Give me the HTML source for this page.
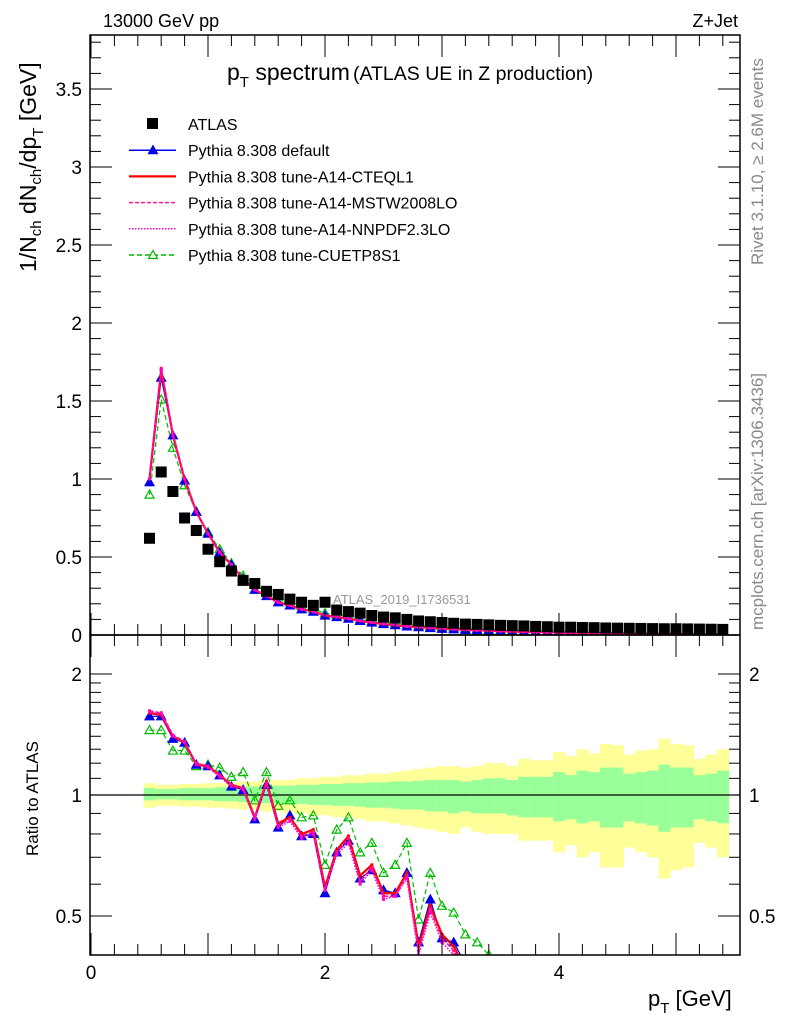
<!DOCTYPE html>
<html><head><meta charset="utf-8">
<style>
html,body{margin:0;padding:0;background:#fff;}
svg{display:block;font-family:"Liberation Sans",sans-serif;}
</style></head>
<body>
<svg id="chart" width="786" height="1024" viewBox="0 0 786 1024">
<defs>
<clipPath id="clipMain"><rect x="90" y="35" width="650" height="600"/></clipPath>
<clipPath id="clipRatio"><rect x="90" y="635" width="650" height="320"/></clipPath>
</defs>
<g id="bands" clip-path="url(#clipRatio)"></g>
<g id="ratioSeries" clip-path="url(#clipRatio)"></g>
<g id="mainSeries" clip-path="url(#clipMain)"></g>
<g id="axes"></g>
<text x="103" y="27" font-size="18">13000 GeV pp</text>
<text x="738" y="27" font-size="18" text-anchor="end">Z+Jet</text>
<text x="227" y="80" font-size="23">p<tspan font-size="15" dy="7">T</tspan><tspan dy="-7"> spectrum</tspan><tspan font-size="19.5" dx="3">(ATLAS UE in Z production)</tspan></text>
<text x="333" y="604" font-size="13" fill="#999">ATLAS_2019_I1736531</text>
<text transform="translate(763,265) rotate(-90)" font-size="17" fill="#888">Rivet 3.1.10, ≥ 2.6M events</text>
<text transform="translate(763,630) rotate(-90)" font-size="17" fill="#888">mcplots.cern.ch [arXiv:1306.3436]</text>
<text transform="translate(36,272) rotate(-90)" font-size="23">1/N<tspan font-size="15" dy="5">ch</tspan><tspan dy="-5"> dN</tspan><tspan font-size="15" dy="5">ch</tspan><tspan dy="-5">/dp</tspan><tspan font-size="15" dy="7">T</tspan><tspan dy="-7"> [GeV]</tspan></text>
<text transform="translate(38,856) rotate(-90)" font-size="17">Ratio to ATLAS</text>
<text x="648" y="1006" font-size="22">p<tspan font-size="15" dy="7">T</tspan><tspan dy="-7"> [GeV]</tspan></text>
<g id="legend"></g>
</svg>
<script>
const xs = [0.5,0.6,0.7,0.8,0.9,1.0,1.1,1.2,1.3,1.4,1.5,1.6,1.7,1.8,1.9,2.0,2.1,2.2,2.3,2.4,2.5,2.6,2.7,2.8,2.9,3.0,3.1,3.2,3.3,3.4,3.5,3.6,3.7,3.8,3.9,4.0,4.1,4.2,4.3,4.4,4.5,4.6,4.7,4.8,4.9,5.0,5.1,5.2,5.3,5.4];
const atlas = [0.62,1.045,0.92,0.75,0.67,0.55,0.47,0.41,0.35,0.33,0.28,0.26,0.23,0.21,0.19,0.21,0.16,0.15,0.14,0.125,0.115,0.11,0.10,0.09,0.085,0.08,0.075,0.07,0.068,0.065,0.062,0.06,0.058,0.055,0.053,0.05,0.05,0.048,0.047,0.045,0.044,0.043,0.042,0.041,0.04,0.04,0.039,0.038,0.037,0.036];
const mainDefault = [0.98,1.65,1.28,0.99,0.79,0.65,0.53,0.45,0.36,0.29,0.25,0.21,0.19,0.165,0.15,0.125,0.115,0.105,0.09,0.08,0.07,0.063,0.055,0.05,0.045,0.04,0.037,0.033,0.03,0.027,0.025,0.022,0.02,0.018,0.017,0.015,0.014,0.013,0.012,0.011,0.01,0.009,0.008,0.008,0.007,0.007,0.006,0.006,0.005,0.005];
const mainCTEQ = [1.0,1.70,1.28,1.0,0.79,0.65,0.53,0.45,0.36,0.29,0.25,0.21,0.19,0.165,0.15,0.125,0.115,0.105,0.09,0.08,0.07,0.063,0.055,0.05,0.045,0.04,0.037,0.033,0.03,0.027,0.025,0.022,0.02,0.018,0.017,0.015,0.014,0.013,0.012,0.011,0.01,0.009,0.008,0.008,0.007,0.007,0.006,0.006,0.005,0.005];
const mainMSTW = [1.0,1.71,1.29,1.0,0.79,0.65,0.53,0.45,0.36,0.29,0.25,0.21,0.19,0.165,0.15,0.125,0.115,0.105,0.09,0.08,0.07,0.063,0.055,0.05,0.045,0.04,0.037,0.033,0.03,0.027,0.025,0.022,0.02,0.018,0.017,0.015,0.014,0.013,0.012,0.011,0.01,0.009,0.008,0.008,0.007,0.007,0.006,0.006,0.005,0.005];
const mainNNPDF = [1.0,1.70,1.28,1.0,0.79,0.65,0.53,0.45,0.36,0.29,0.25,0.21,0.19,0.165,0.15,0.125,0.115,0.105,0.09,0.08,0.07,0.063,0.055,0.05,0.045,0.04,0.037,0.033,0.03,0.027,0.025,0.022,0.02,0.018,0.017,0.015,0.014,0.013,0.012,0.011,0.01,0.009,0.008,0.008,0.007,0.007,0.006,0.006,0.005,0.005];
const mainCUETP = [0.90,1.51,1.20,0.96,0.79,0.66,0.55,0.46,0.38,0.32,0.28,0.24,0.21,0.185,0.165,0.14,0.13,0.12,0.10,0.09,0.08,0.075,0.068,0.06,0.055,0.05,0.046,0.042,0.038,0.035,0.032,0.029,0.027,0.025,0.023,0.021,0.02,0.018,0.017,0.016,0.015,0.014,0.013,0.012,0.011,0.011,0.01,0.01,0.009,0.009];
const ratioDefault = [1.57,1.57,1.38,1.35,1.19,1.18,1.12,1.05,1.03,0.87,1.06,0.83,0.89,0.79,0.80,0.57,0.72,0.77,0.62,0.65,0.58,0.57,0.64,0.43,0.55,0.44,0.43,0.38];
const ratioCTEQ = [1.60,1.58,1.40,1.35,1.19,1.18,1.12,1.06,1.04,0.88,1.08,0.85,0.88,0.80,0.82,0.59,0.73,0.79,0.63,0.67,0.57,0.57,0.64,0.42,0.53,0.45,0.42,0.37];
const ratioMSTW = [1.62,1.60,1.41,1.36,1.20,1.18,1.12,1.06,1.04,0.88,1.07,0.84,0.87,0.79,0.81,0.58,0.72,0.78,0.61,0.66,0.56,0.56,0.63,0.41,0.52,0.44,0.41,0.36];
const ratioNNPDF = [1.61,1.59,1.40,1.35,1.19,1.17,1.11,1.05,1.03,0.87,1.07,0.83,0.86,0.78,0.80,0.58,0.71,0.76,0.60,0.65,0.55,0.56,0.62,0.40,0.51,0.43,0.40,0.36];
const ratioCUETP = [1.45,1.45,1.29,1.29,1.18,1.19,1.17,1.11,1.14,0.97,1.14,0.94,0.97,0.88,0.89,0.67,0.82,0.88,0.72,0.76,0.64,0.67,0.76,0.49,0.64,0.53,0.51,0.45,0.43,0.40,0.37];
const yellowUp = [1.07,1.06,1.06,1.065,1.065,1.07,1.07,1.075,1.08,1.08,1.085,1.09,1.09,1.10,1.10,1.11,1.11,1.12,1.12,1.13,1.13,1.14,1.15,1.16,1.17,1.18,1.18,1.17,1.18,1.20,1.20,1.18,1.23,1.22,1.22,1.28,1.25,1.30,1.27,1.34,1.33,1.26,1.29,1.30,1.38,1.34,1.33,1.23,1.26,1.30];
const yellowDn = [0.93,0.94,0.94,0.935,0.935,0.93,0.93,0.925,0.92,0.92,0.91,0.91,0.90,0.90,0.89,0.89,0.88,0.88,0.87,0.86,0.86,0.85,0.84,0.83,0.82,0.81,0.80,0.83,0.81,0.80,0.80,0.80,0.77,0.77,0.77,0.72,0.75,0.70,0.72,0.66,0.66,0.74,0.72,0.70,0.62,0.65,0.66,0.76,0.74,0.70];
const greenUp = [1.04,1.035,1.035,1.04,1.04,1.04,1.045,1.045,1.05,1.05,1.05,1.055,1.055,1.06,1.06,1.065,1.065,1.07,1.07,1.075,1.075,1.08,1.08,1.085,1.09,1.09,1.09,1.08,1.09,1.10,1.10,1.09,1.11,1.11,1.11,1.14,1.12,1.15,1.14,1.17,1.17,1.13,1.14,1.15,1.19,1.17,1.17,1.12,1.13,1.15];
const greenDn = [0.97,0.975,0.975,0.97,0.97,0.97,0.965,0.965,0.96,0.96,0.955,0.955,0.95,0.95,0.945,0.945,0.94,0.94,0.935,0.93,0.93,0.925,0.92,0.92,0.91,0.91,0.90,0.91,0.90,0.90,0.90,0.89,0.88,0.88,0.88,0.86,0.87,0.85,0.86,0.83,0.83,0.86,0.85,0.84,0.81,0.83,0.83,0.87,0.86,0.85];
const mainTicks = ["0","0.5","1","1.5","2","2.5","3","3.5"];
const xTicks = ["0","2","4"];
const ratioTicks = ["0.5","1","2"];

const NS = "http://www.w3.org/2000/svg";
const X = v => 91 + 117 * v;
const YM = v => 635 - 156 * v;
const YR = r => 795 - 121 * Math.log2(r);
function mk(tag, attrs, parent){ const e=document.createElementNS(NS,tag); for(const k in attrs) e.setAttribute(k,attrs[k]); parent.appendChild(e); return e; }
const gAx = document.getElementById('axes');
const gBand = document.getElementById('bands');
const gR = document.getElementById('ratioSeries');
const gM = document.getElementById('mainSeries');
const gL = document.getElementById('legend');

for (let i=0;i<xs.length;i++){
  const x0=X(xs[i]-0.05), w=117*0.1;
  const y1 = mk('rect',{x:x0,y:YR(yellowUp[i]),width:w+0.5,height:YR(yellowDn[i])-YR(yellowUp[i]),fill:'#ffff99'},gBand);
  
  
  const g1 = mk('rect',{x:x0,y:YR(greenUp[i]),width:w+0.5,height:YR(greenDn[i])-YR(greenUp[i]),fill:'#99ff99'},gBand);
  
  
}
const one = mk('line',{x1:90,x2:740,y1:YR(1),y2:YR(1),stroke:'#000','stroke-width':1.2},gBand);



function tri(g,x,y,fill,stroke){ return mk('path',{d:`M${x-4.5},${y+3.5} L${x+4.5},${y+3.5} L${x},${y-4.5} Z`,fill:fill,stroke:stroke,'stroke-width':1.2},g); }
function drawSeries(g, vals, yf, color, dash, width, marker, name){
  const pts = vals.map((v,i)=>X(xs[i]).toFixed(1)+','+yf(v).toFixed(1)).join(' ');
  const pl = mk('polyline',{points:pts,fill:'none',stroke:color,'stroke-width':width,'stroke-dasharray':dash},g);
  
  
  vals.forEach((v,i)=>{
    let m;
    if (marker==='tri') m = tri(g,X(xs[i]),yf(v),color,color);
    else if (marker==='otri') m = tri(g,X(xs[i]),yf(v),'none',color);
    else m = mk('rect',{x:X(xs[i])-1.5,y:yf(v)-1.5,width:3,height:3,fill:color},g);
    
    
  });
}
drawSeries(gR, ratioCUETP, YR, '#00bb00', '5,3', 1.2, 'otri', 'ratio-cuetp8s1');
drawSeries(gR, ratioDefault, YR, '#0000ee', '', 1.2, 'tri', 'ratio-default');
drawSeries(gR, ratioCTEQ, YR, '#ff0000', '', 2.2, 'sq', 'ratio-cteql1');
drawSeries(gR, ratioMSTW, YR, '#ff1493', '4,2', 1.6, 'sq', 'ratio-mstw2008lo');
drawSeries(gR, ratioNNPDF, YR, '#ff00cc', '1.5,1.5', 1.6, 'sq', 'ratio-nnpdf23lo');
drawSeries(gM, mainCUETP, YM, '#00bb00', '5,3', 1.2, 'otri', 'cuetp8s1');
drawSeries(gM, mainDefault, YM, '#0000ee', '', 1.2, 'tri', 'default');
drawSeries(gM, mainCTEQ, YM, '#ff0000', '', 2.2, 'sq', 'cteql1');
drawSeries(gM, mainMSTW, YM, '#ff1493', '4,2', 1.6, 'sq', 'mstw2008lo');
drawSeries(gM, mainNNPDF, YM, '#ff00cc', '1.5,1.5', 1.6, 'sq', 'nnpdf23lo');
atlas.forEach((v,i)=>{
  const r = mk('rect',{x:X(xs[i])-5.5,y:YM(v)-5.5,width:11,height:11,fill:'#000'},gM);
  
  
});

const f1 = mk('rect',{x:90,y:35,width:650,height:600,fill:'none',stroke:'#000','stroke-width':1.5},gAx);


const f2 = mk('rect',{x:90,y:635,width:650,height:320,fill:'none',stroke:'#000','stroke-width':1.5},gAx);


for (let k=0;k<=38;k++){
  const v=k*0.1, y=YM(v), len=(k%5===0)?22:11;
  mk('line',{x1:90,x2:90+len,y1:y,y2:y,stroke:'#000'},gAx);
  mk('line',{x1:740,x2:740-len,y1:y,y2:y,stroke:'#000'},gAx);
}
mainTicks.forEach(t=>{
  const tx = mk('text',{x:82,y:YM(parseFloat(t))+7,'font-size':19,'text-anchor':'end'},gAx);
  tx.textContent=t;
  
  
});
for (let k=0;k<=27;k++){
  const v=k*0.2, x=X(v), len=(k%5===0)?22:11;
  mk('line',{x1:x,x2:x,y1:635,y2:635-len,stroke:'#000'},gAx);
  mk('line',{x1:x,x2:x,y1:35,y2:35+len,stroke:'#000'},gAx);
  mk('line',{x1:x,x2:x,y1:955,y2:955-len,stroke:'#000'},gAx);
  mk('line',{x1:x,x2:x,y1:635,y2:635+len,stroke:'#000'},gAx);
}
xTicks.forEach(t=>{
  const tx = mk('text',{x:X(parseFloat(t)),y:979,'font-size':19,'text-anchor':'middle'},gAx);
  tx.textContent=t;
  
  
});
[0.4,0.5,0.6,0.7,0.8,0.9,1,1.1,1.2,1.3,1.4,1.5,1.6,1.7,1.8,1.9,2].forEach(r=>{
  const y=YR(r), major=(r===0.5||r===1||r===2), len=major?22:11;
  mk('line',{x1:90,x2:90+len,y1:y,y2:y,stroke:'#000'},gAx);
  mk('line',{x1:740,x2:740-len,y1:y,y2:y,stroke:'#000'},gAx);
});
ratioTicks.forEach(t=>{
  const y=YR(parseFloat(t))+7;
  const a = mk('text',{x:82,y:y,'font-size':19,'text-anchor':'end'},gAx);
  a.textContent=t;
  
  
  const b = mk('text',{x:749,y:y,'font-size':19},gAx);
  b.textContent=t;
  
  
});

const leg = [
  ['ATLAS','#000','', 'sqbig'],
  ['Pythia 8.308 default','#0000ee','', 'tri'],
  ['Pythia 8.308 tune-A14-CTEQL1','#ff0000','', 'none'],
  ['Pythia 8.308 tune-A14-MSTW2008LO','#ff1493','4,2', 'none'],
  ['Pythia 8.308 tune-A14-NNPDF2.3LO','#ff00cc','1.5,1.5', 'none'],
  ['Pythia 8.308 tune-CUETP8S1','#00bb00','5,3', 'otri']
];
leg.forEach((l,i)=>{
  const y = 124 + i*26.2;
  const g = mk('g',{},gL);
  
  
  if (l[3]==='sqbig') mk('rect',{x:147,y:y-6,width:11,height:11,fill:'#000'},g);
  else {
    mk('line',{x1:129,x2:176,y1:y,y2:y,stroke:l[1],'stroke-width':l[1]==='#ff0000'?2.2:1.5,'stroke-dasharray':l[2]},g);
    if (l[3]==='tri') tri(g,153,y,l[1],l[1]);
    if (l[3]==='otri') tri(g,153,y,'#fff',l[1]);
  }
  const t = mk('text',{x:188,y:y+6,'font-size':16},g);
  t.textContent = l[0];
});
</script>
</body></html>
